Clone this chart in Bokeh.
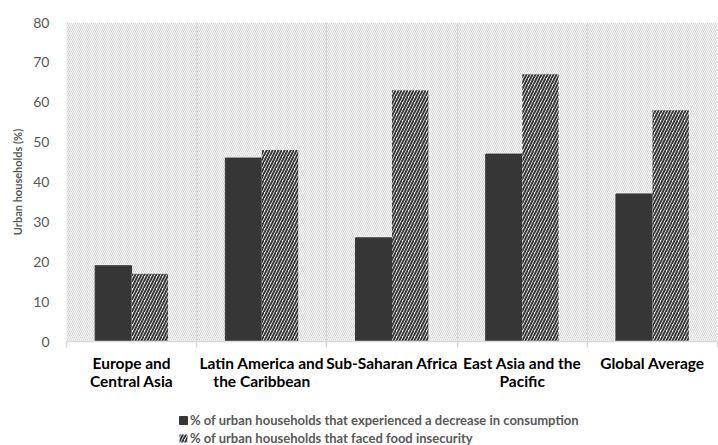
from bokeh.plotting import figure
from bokeh.layouts import column
from bokeh.models import Range1d, FixedTicker, ColumnDataSource, Legend, LegendItem
from bokeh.embed import file_html
from bokeh.resources import INLINE

categories = ["Europe and\nCentral Asia", "Latin America and\nthe Caribbean",
              "Sub-Saharan Africa", "East Asia and the\nPacific", "Global Average"]
consumption = [19, 46, 26, 47, 37]
food_insecurity = [17, 48, 63, 67, 58]
y_ticks = [0, 10, 20, 30, 40, 50, 60, 70, 80]
series_names = ["% of urban households that experienced a decrease in consumption",
                "% of urban households that faced food insecurity"]

n = len(categories)
x_min, x_max = 0, n
y_min, y_max = 0, 80
bar_w = 0.28
centers = [i + 0.5 for i in range(n)]

FONT = "Lato"
GRAY = "#595959"
DARK = "#363636"
HATCH = "#383838"

p = figure(width=718, height=392, output_backend="svg", toolbar_location=None,
           x_range=Range1d(x_min, x_max), y_range=Range1d(y_min, y_max),
           min_border_left=66, min_border_right=1, min_border_top=22, min_border_bottom=51)
p.outline_line_color = None
p.background_fill_color = "white"

# hatched plot-area background
bg = p.quad(left=[x_min], right=[x_max], bottom=[y_min], top=[y_max],
            fill_color="white", line_color=None,
            hatch_pattern="\\", hatch_color="#d4d4d4", hatch_scale=4, hatch_weight=1)
bg.level = "image"

src = ColumnDataSource(dict(
    xd=[c - bar_w / 2 for c in centers],
    xh=[c + bar_w / 2 for c in centers],
    cons=consumption, food=food_insecurity))

dark_style = dict(fill_color=DARK, line_color=DARK)
hatch_style = dict(fill_color="white", line_color=None,
                   hatch_pattern="/", hatch_color=HATCH, hatch_scale=6, hatch_weight=2)

p.vbar(x="xd", top="cons", width=bar_w, source=src, **dark_style)
p.vbar(x="xh", top="food", width=bar_w, source=src, **hatch_style)

# x axis
p.xaxis.ticker = FixedTicker(ticks=centers, minor_ticks=list(range(x_min, x_max + 1)))
p.xaxis.major_label_overrides = {c: lab for c, lab in zip(centers, categories)}
p.xaxis.major_tick_line_color = None
p.xaxis.major_tick_out = 0
p.xaxis.major_tick_in = 0
p.xaxis.minor_tick_line_color = "#d9d9d9"
p.xaxis.minor_tick_line_width = 1.5
p.xaxis.minor_tick_out = 6
p.xaxis.minor_tick_in = 0
p.xaxis.axis_line_color = "#d9d9d9"
p.xaxis.axis_line_width = 1.5
p.xaxis.major_label_standoff = 6
p.xaxis.major_label_text_font = FONT
p.xaxis.major_label_text_font_style = "bold"
p.xaxis.major_label_text_font_size = "15.5px"
p.xaxis.major_label_text_color = "black"
p.xaxis.major_label_text_align = "center"
p.xaxis.major_label_text_line_height = 1.0

# y axis
p.yaxis.ticker = FixedTicker(ticks=y_ticks)
p.yaxis.axis_line_color = None
p.yaxis.major_tick_line_color = None
p.yaxis.minor_tick_line_color = None
p.yaxis.major_label_text_font = FONT
p.yaxis.major_label_text_font_size = "14px"
p.yaxis.major_label_text_color = GRAY
p.yaxis.major_label_standoff = 11
p.yaxis.axis_label = "Urban households (%)"
p.yaxis.axis_label_text_font = FONT
p.yaxis.axis_label_text_font_style = "bold"
p.yaxis.axis_label_text_font_size = "11px"
p.yaxis.axis_label_text_color = GRAY
p.yaxis.axis_label_standoff = 6

# grids
p.ygrid.grid_line_color = None
p.xgrid.ticker = FixedTicker(ticks=list(range(x_min, x_max + 1)))
p.xgrid.grid_line_color = "#d9d9d9"
p.xgrid.grid_line_width = 1.5

# legend strip below the chart (its swatch renderers sit outside the visible range)
lf = figure(width=718, height=53, output_backend="svg", toolbar_location=None,
            x_axis_type=None, y_axis_type=None, x_range=Range1d(0, 1), y_range=Range1d(0, 1),
            min_border=0)
lf.outline_line_color = None
lf.grid.visible = False
swatch = ColumnDataSource(dict(x=[-5], top=[-5]))
l1 = lf.vbar(x="x", top="top", width=1, source=swatch, **dark_style)
l2 = lf.vbar(x="x", top="top", width=1, source=swatch, **hatch_style)

legend = Legend(items=[LegendItem(label=series_names[0], renderers=[l1], index=0),
                       LegendItem(label=series_names[1], renderers=[l2], index=0)],
                location=(112, -1), orientation="vertical",
                glyph_width=10, glyph_height=10, label_height=14, spacing=2,
                padding=0, margin=0, label_standoff=2,
                label_text_font=FONT, label_text_font_style="bold",
                label_text_font_size="13px", label_text_color=GRAY,
                border_line_color=None, background_fill_alpha=0)
lf.add_layout(legend, "center")

layout = column(p, lf, spacing=0)
open("out.html", "w").write(file_html(layout, INLINE))
